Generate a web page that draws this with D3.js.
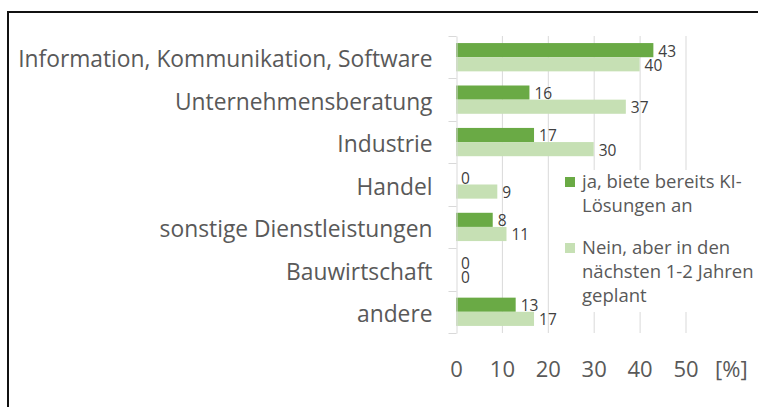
<!DOCTYPE html>
<html>
<head>
<meta charset="utf-8">
<script src="https://cdn.jsdelivr.net/npm/d3@7"></script>
<style>
  html, body { margin: 0; padding: 0; background: #fff; }
  svg { display: block; font-family: "Open Sans", sans-serif; }
</style>
</head>
<body>
<svg id="chart" width="758" height="407"></svg>
<script>
// data
var categories = [
    "Information, Kommunikation, Software",
    "Unternehmensberatung",
    "Industrie",
    "Handel",
    "sonstige Dienstleistungen",
    "Bauwirtschaft",
    "andere"
];
var offered = [43, 16, 17, 0, 8, 0, 13];
var planned = [40, 37, 30, 9, 11, 0, 17];
var seriesNames = ["offered", "planned"];
var legendLines = [
    ["ja, biete bereits KI-", "Lösungen an"],
    ["Nein, aber in den", "nächsten 1-2 Jahren", "geplant"]
];
var xTickValues = [0, 10, 20, 30, 40, 50];
var unitLabel = "[%]";

var colors = {offered: "#6aaa45", planned: "#c6e0b4"};
var textColor = "#595959";
var gridColor = "#d9d9d9";

var svg = d3.select("#chart");

// outer frame
svg.append("path")
    .attr("d", "M8,407 L8,12 L758,12")
    .attr("fill", "none")
    .attr("stroke", "#111")
    .attr("stroke-width", 2);

var x = d3.scaleLinear()
    .domain([0, 50])
    .range([456, 685.5]);

var y = d3.scaleBand()
    .domain(categories)
    .range([36, 333])
    .padding(0);

var ySub = d3.scaleBand()
    .domain(seriesNames)
    .range([0, y.bandwidth()])
    .paddingOuter(0.5)
    .paddingInner(0);

var rows = categories.map(function(c, i) {
    return {cat: c, offered: offered[i], planned: planned[i]};
});

// gridlines
svg.append("g")
    .selectAll("line")
    .data(xTickValues.slice(1))
    .enter()
    .append("line")
    .attr("x1", function(d) { return x(d) + 0.5; })
    .attr("x2", function(d) { return x(d) + 0.5; })
    .attr("y1", 36)
    .attr("y2", 333)
    .attr("stroke", gridColor)
    .attr("stroke-width", 1);

// bars
var barG = svg.append("g");
seriesNames.forEach(function(s) {
    barG.selectAll("rect." + s)
        .data(rows)
        .enter()
        .append("rect")
        .attr("class", s)
        .attr("x", x(0))
        .attr("y", function(d) { return y(d.cat) + ySub(s); })
        .attr("width", function(d) { return x(d[s]) - x(0); })
        .attr("height", ySub.bandwidth())
        .attr("fill", colors[s]);

    barG.selectAll("text." + s)
        .data(rows)
        .enter()
        .append("text")
        .attr("class", s)
        .attr("x", function(d) { return x(d[s]) + 5; })
        .attr("y", function(d) { return y(d.cat) + ySub(s) + ySub.bandwidth() / 2 + 1; })
        .attr("dy", "0.35em")
        .attr("font-size", 15.5)
        .attr("fill", "#404040")
        .text(function(d) { return d[s]; });
});

// y axis
var yAxis = d3.axisLeft(y)
    .tickSize(0)
    .tickPadding(24)
    .tickSizeOuter(0);

var yG = svg.append("g")
    .attr("transform", "translate(" + (x(0) + 0.5) + ",0)")
    .call(yAxis);
yG.select(".domain").attr("stroke", gridColor);
yG.selectAll(".tick text")
    .attr("font-size", 22.8)
    .attr("font-family", "Open Sans, sans-serif")
    .attr("fill", textColor)
    .attr("dy", "0.45em");

// boundary ticks between categories
yG.append("g")
    .selectAll("line")
    .data(d3.range(categories.length + 1))
    .enter()
    .append("line")
    .attr("x1", -8)
    .attr("x2", 0)
    .attr("y1", function(i) { return Math.round(36 + i * y.step()) + 0.5; })
    .attr("y2", function(i) { return Math.round(36 + i * y.step()) + 0.5; })
    .attr("stroke", gridColor);

// x axis labels
var xAxis = d3.axisBottom(x)
    .tickValues(xTickValues)
    .tickSize(0)
    .tickPadding(0);

var xG = svg.append("g")
    .attr("transform", "translate(0,361)")
    .call(xAxis);
xG.select(".domain").remove();
xG.selectAll(".tick text")
    .attr("font-size", 22)
    .attr("font-family", "Open Sans, sans-serif")
    .attr("fill", textColor);

svg.append("text")
    .attr("x", x(60))
    .attr("y", 361)
    .attr("dy", "0.71em")
    .attr("text-anchor", "middle")
    .attr("font-size", 22)
    .attr("fill", textColor)
    .text(unitLabel);

// legend
var legend = svg.append("g");
legend.append("rect")
    .attr("x", 556)
    .attr("y", 170)
    .attr("width", 200)
    .attr("height", 142)
    .attr("fill", "#fff");

var legendTop = [182, 248];
seriesNames.forEach(function(s, i) {
    var g = legend.append("g")
        .attr("transform", "translate(565," + legendTop[i] + ")");
    g.append("rect")
        .attr("x", 0)
        .attr("y", -5)
        .attr("width", 10)
        .attr("height", 10)
        .attr("fill", colors[s]);
    g.selectAll("text")
        .data(legendLines[i])
        .enter()
        .append("text")
        .attr("x", 17)
        .attr("y", function(d, j) { return j * 24; })
        .attr("dy", "0.35em")
        .attr("font-size", 18.5)
        .attr("fill", textColor)
        .text(function(d) { return d; });
});
</script>
</body>
</html>
